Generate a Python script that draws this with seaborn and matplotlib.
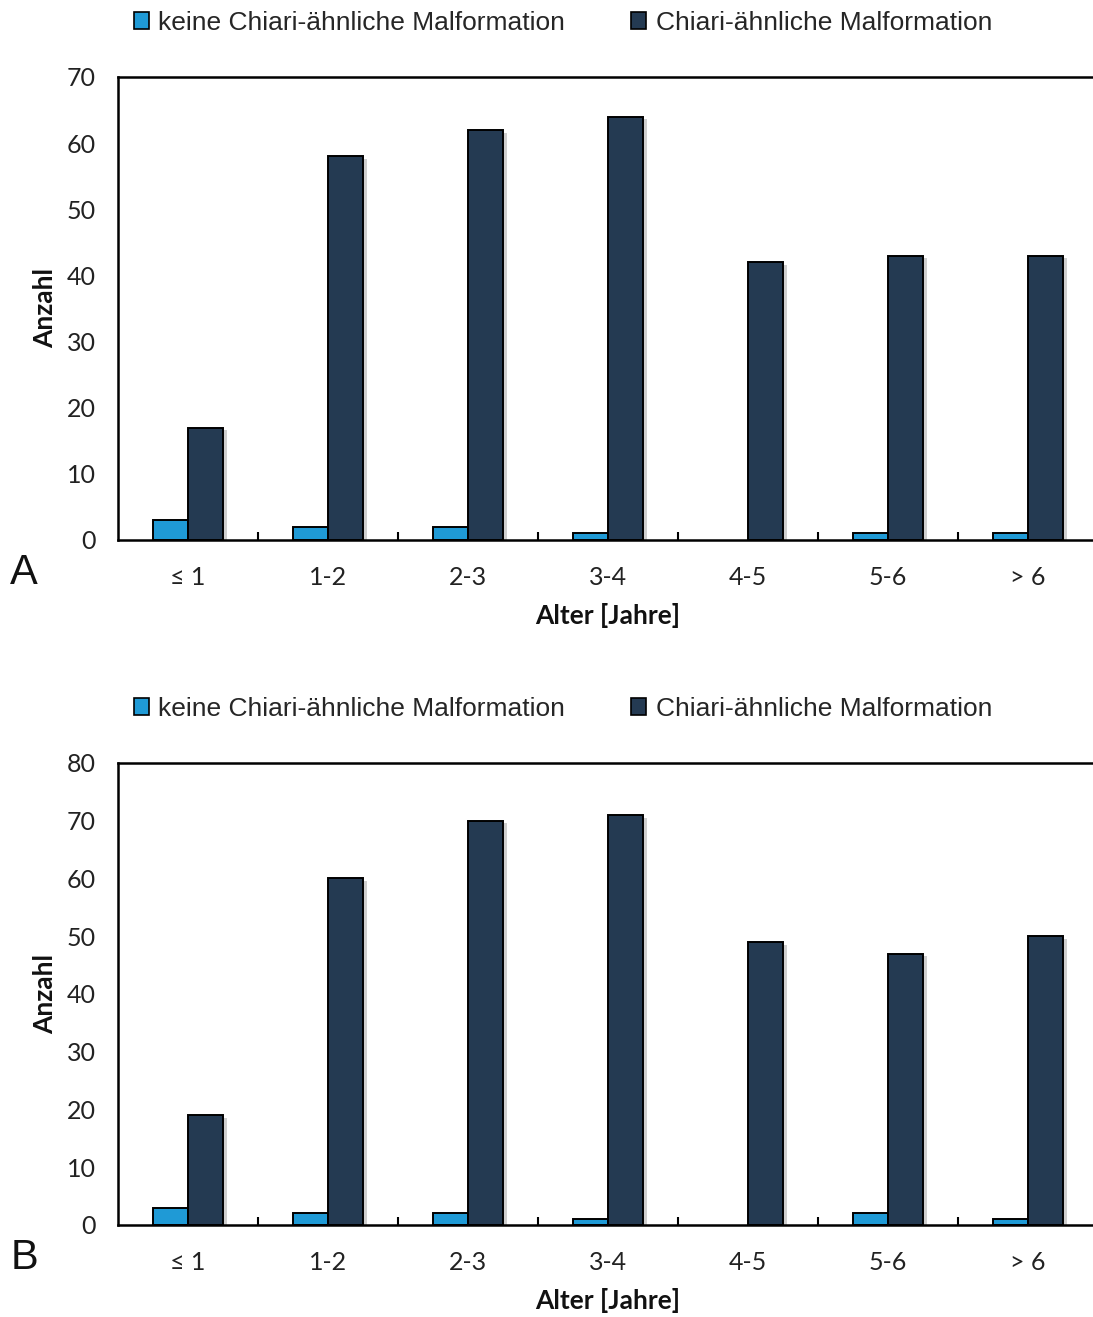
import matplotlib
matplotlib.use("Agg")
import matplotlib.pyplot as plt
import matplotlib.patheffects as pe
from matplotlib.patches import Patch
from matplotlib.ticker import FixedLocator
import pandas as pd
import seaborn as sns

# Age groups and counts per group
age_groups = ["≤ 1", "1-2", "2-3", "3-4", "4-5", "5-6", "> 6"]
series_names = ["keine Chiari-ähnliche Malformation", "Chiari-ähnliche Malformation"]

a_no_cm = [3, 2, 2, 1, 0, 1, 1]
a_cm = [17, 58, 62, 64, 42, 43, 43]

b_no_cm = [3, 2, 2, 1, 0, 2, 1]
b_cm = [19, 60, 70, 71, 49, 47, 50]

a_yticks = [0, 10, 20, 30, 40, 50, 60, 70]
b_yticks = [0, 10, 20, 30, 40, 50, 60, 70, 80]

colors = ["#1f9ad6", "#243a52"]

sns.set_theme(style="white")
plt.rcParams["font.family"] = ["Lato", "DejaVu Sans"]


def long_frame(no_cm, cm):
    return pd.DataFrame({
        "Alter": age_groups * 2,
        "Gruppe": [series_names[0]] * len(age_groups) + [series_names[1]] * len(age_groups),
        "Anzahl": list(no_cm) + list(cm),
    })


fig = plt.figure(figsize=(10.93, 13.17), dpi=100)

panels = [
    ("A", long_frame(a_no_cm, a_cm), a_yticks, [0.108, 0.590, 0.8966, 0.3516], 0.9826, 0.565),
    ("B", long_frame(b_no_cm, b_cm), b_yticks, [0.108, 0.0699, 0.8966, 0.3508], 0.4618, 0.045),
]

for letter, df, yt, rect, leg_y, letter_y in panels:
    ax = fig.add_axes(rect)
    sns.barplot(data=df, x="Alter", y="Anzahl", hue="Gruppe", order=age_groups,
                hue_order=series_names, palette=colors, width=0.5, dodge=True,
                edgecolor="black", linewidth=1.4, saturation=1, ax=ax, legend=False)
    for p in ax.patches:
        if p.get_height() == 0:
            p.set_visible(False)
            continue
        p.set_path_effects([pe.SimplePatchShadow(offset=(3, -2), shadow_rgbFace="#777777", alpha=0.35),
                            pe.Normal()])
    ax.set_xlim(-0.5, len(age_groups) - 0.5)
    ax.set_ylim(yt[0], yt[-1])
    ax.set_yticks(yt)
    ax.set_yticklabels([str(v) for v in yt])
    ax.tick_params(axis="y", length=0, pad=16, labelsize=18, labelcolor="#222222")
    ax.tick_params(axis="x", which="major", length=0, pad=19, labelsize=18, labelcolor="#222222")
    ax.xaxis.set_minor_locator(FixedLocator([i + 0.5 for i in range(len(age_groups) - 1)]))
    ax.tick_params(axis="x", which="minor", direction="in", length=6, width=1.5,
                   color="black", bottom=True)
    for side in ["left", "top", "bottom"]:
        ax.spines[side].set_color("black")
        ax.spines[side].set_linewidth(1.8)
    ax.spines["right"].set_visible(False)
    ax.set_ylabel("Anzahl", fontsize=19, fontweight="bold", labelpad=7, color="#111111")
    ax.set_xlabel("Alter [Jahre]", fontsize=19, fontweight="bold", labelpad=10, color="#111111")

    handles = [Patch(facecolor=c, edgecolor="black", linewidth=1.2) for c in colors]
    fig.legend(handles, series_names, loc="center", bbox_to_anchor=(0.515, leg_y), ncol=2,
               frameon=False, handlelength=0.58, handleheight=0.58, handletextpad=0.35,
               columnspacing=2.5, prop={"family": ["Liberation Sans", "DejaVu Sans"], "size": 19})
    fig.text(0.022, letter_y, letter, fontsize=30, ha="center", va="center",
             family=["Liberation Sans", "DejaVu Sans"], color="#111111")

fig.savefig("out.png", dpi=100, facecolor="white")
